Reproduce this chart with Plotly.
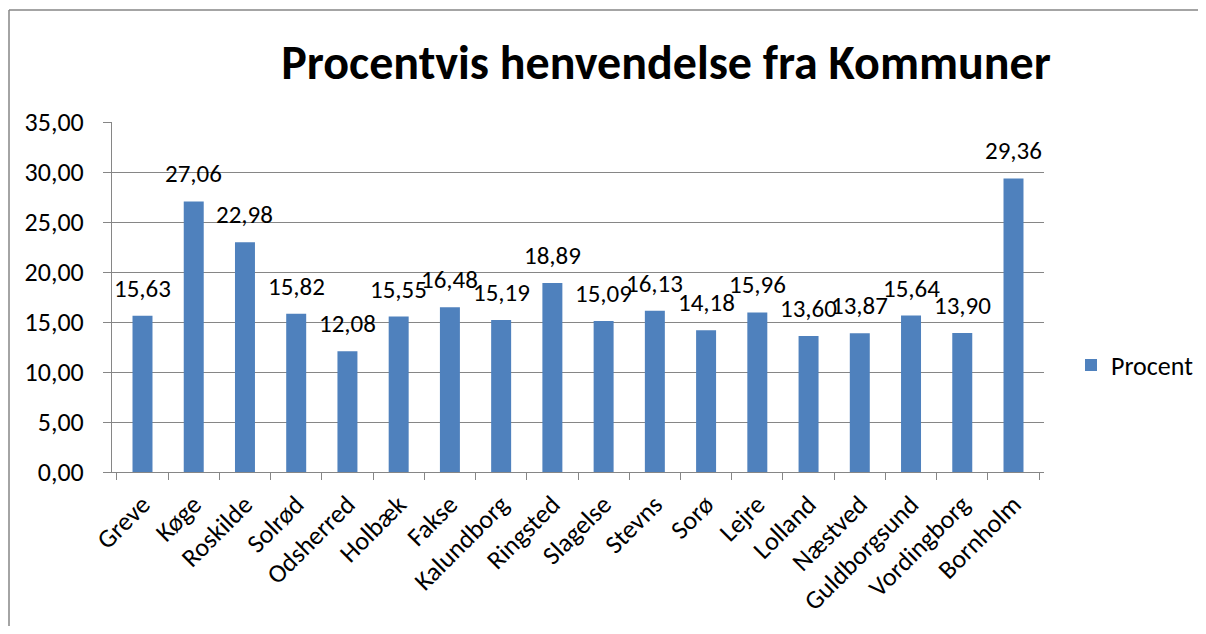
import plotly.graph_objects as go

categories = ["Greve", "Køge", "Roskilde", "Solrød", "Odsherred", "Holbæk", "Fakse",
              "Kalundborg", "Ringsted", "Slagelse", "Stevns", "Sorø", "Lejre", "Lolland",
              "Næstved", "Guldborgsund", "Vordingborg", "Bornholm"]
procent = [15.63, 27.06, 22.98, 15.82, 12.08, 15.55, 16.48, 15.19, 18.89, 15.09,
           16.13, 14.18, 15.96, 13.60, 13.87, 15.64, 13.90, 29.36]
y_ticks = [0, 5, 10, 15, 20, 25, 30, 35]

FONT = "Carlito, Calibri, Lato, sans-serif"
OFF = 8  # page body margin offset
W, H = 1206 - 2 * OFF, 634 - 2 * OFF
L, T = 112 - OFF, 122 - OFF
pw, ph = 932, 350
R, B = W - L - pw, H - T - ph

def px_x(p):  # screen pixel -> paper x
    return (p - OFF - L) / pw

def px_y(p):  # screen pixel -> paper y
    return (T + ph - (p - OFF)) / ph

fig = go.Figure()
fig.add_trace(go.Bar(
    x=categories, y=procent, name="Procent",
    marker=dict(color="#4F81BD", line=dict(width=0)),
))

annotations = []
for c, v in zip(categories, procent):
    annotations.append(dict(
        x=c, y=v, xref="x", yref="y", text=f"{v:.2f}".replace(".", ","),
        showarrow=False, yanchor="bottom", yshift=10,
        font=dict(family=FONT, size=25, color="#000000"),
    ))

border = dict(color="#868686", width=1.5)

fig.update_layout(
    width=W, height=H,
    margin=dict(l=L, r=R, t=T, b=B, autoexpand=False),
    paper_bgcolor="white", plot_bgcolor="white",
    separators=",.",
    font=dict(family=FONT, size=26, color="#000000"),
    title=dict(text="<b>Procentvis henvendelse fra Kommuner</b>",
               x=(666 - OFF) / W, xanchor="center", xref="container",
               y=1 - (62 - OFF) / H, yanchor="middle", yref="container",
               font=dict(family=FONT, size=48, color="#000000")),
    bargap=0.61,
    showlegend=True,
    legend=dict(x=px_x(1071), y=px_y(365), xanchor="left", yanchor="middle",
                font=dict(family=FONT, size=26, color="#000000"),
                itemwidth=30, bgcolor="rgba(0,0,0,0)"),
    xaxis=dict(
        type="category", tickangle=-45, showgrid=False,
        showline=True, linecolor="#868686", linewidth=1,
        ticks="outside", tickson="boundaries", ticklen=7, tickcolor="#868686",
        ticklabelstandoff=6,
        tickfont=dict(family=FONT, size=26, color="#000000"),
    ),
    yaxis=dict(
        range=[0, 35], tickvals=y_ticks, tickformat=".2f",
        showgrid=True, gridcolor="#868686", gridwidth=1,
        showline=True, linecolor="#868686", linewidth=1,
        ticks="outside", ticklen=8, tickcolor="#868686",
        ticklabelstandoff=14,
        tickfont=dict(family=FONT, size=26, color="#000000"),
        zeroline=False, fixedrange=True,
    ),
    annotations=annotations,
    shapes=[
        dict(type="line", xref="paper", yref="paper",
             x0=px_x(9), x1=px_x(1206), y0=px_y(10), y1=px_y(10),
             line=border, layer="below"),
        dict(type="line", xref="paper", yref="paper",
             x0=px_x(9), x1=px_x(9), y0=px_y(10), y1=px_y(640),
             line=border, layer="below"),
    ],
)

fig.write_html("out.html")
